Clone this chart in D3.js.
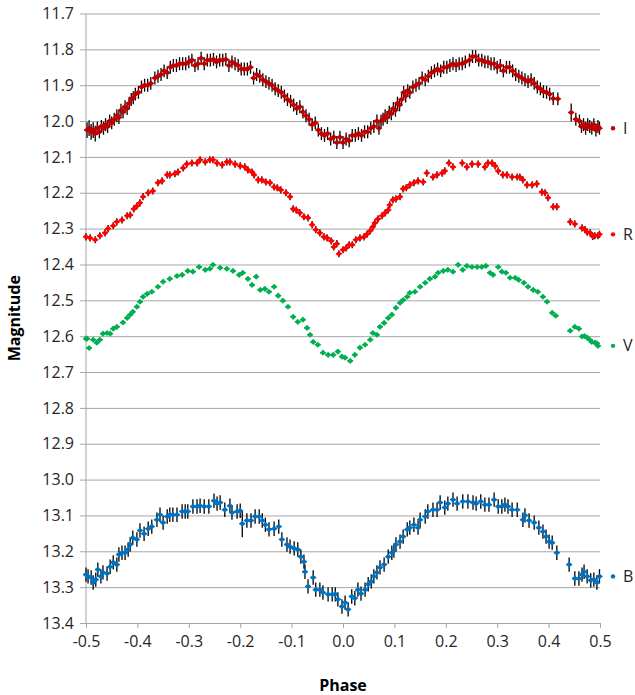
<!DOCTYPE html>
<html>
<head>
<meta charset="utf-8">
<script src="https://cdn.jsdelivr.net/npm/d3@7"></script>
<style>
    body { margin: 0; background: #fff; }
</style>
</head>
<body>
<div id="chart"></div>
<script>
// light curves: [phase, magnitude, (optional error)]
const bands = ['I', 'R', 'V', 'B'];
const bandColors = ['#c00000', '#ff0000', '#00b050', '#0070c0'];
const bandErr = [0.018, 0.01, 0.005, 0.02];

const yTicks = [11.7, 11.8, 11.9, 12.0, 12.1, 12.2, 12.3, 12.4, 12.5, 12.6, 12.7, 12.8, 12.9, 13.0, 13.1, 13.2, 13.3, 13.4];
const xTicks = [-0.5, -0.4, -0.3, -0.2, -0.1, 0.0, 0.1, 0.2, 0.3, 0.4, 0.5];

const dataI = [
    [-0.498, 12.025, 0.022], [-0.494, 12.02, 0.022], [-0.490, 12.03, 0.022], [-0.486, 12.025, 0.022], [-0.482, 12.035, 0.022],
    [-0.478, 12.02], [-0.474, 12.03], [-0.470, 12.015], [-0.466, 12.02], [-0.462, 12.01], [-0.458, 12.015],
    [-0.454, 12.0], [-0.450, 12.005], [-0.445, 11.995], [-0.440, 11.985], [-0.436, 11.99], [-0.432, 11.97],
    [-0.428, 11.975], [-0.424, 11.96], [-0.420, 11.965], [-0.416, 11.95], [-0.412, 11.94], [-0.408, 11.935],
    [-0.404, 11.925], [-0.398, 11.92], [-0.392, 11.905], [-0.386, 11.9], [-0.380, 11.9], [-0.374, 11.895],
    [-0.366, 11.88], [-0.360, 11.875], [-0.354, 11.87], [-0.348, 11.86], [-0.342, 11.865], [-0.336, 11.85],
    [-0.330, 11.845], [-0.324, 11.845], [-0.318, 11.84], [-0.312, 11.84], [-0.306, 11.84], [-0.300, 11.835],
    [-0.294, 11.83], [-0.288, 11.845], [-0.282, 11.84], [-0.276, 11.825], [-0.270, 11.84], [-0.264, 11.83],
    [-0.258, 11.83], [-0.252, 11.828], [-0.246, 11.835], [-0.240, 11.83], [-0.234, 11.83], [-0.228, 11.828],
    [-0.222, 11.845], [-0.216, 11.835], [-0.210, 11.84], [-0.204, 11.845], [-0.198, 11.855], [-0.192, 11.855],
    [-0.186, 11.855], [-0.180, 11.85], [-0.174, 11.88], [-0.168, 11.87], [-0.162, 11.875], [-0.156, 11.885],
    [-0.150, 11.89], [-0.144, 11.895], [-0.138, 11.9], [-0.132, 11.91], [-0.126, 11.915], [-0.120, 11.92],
    [-0.114, 11.93], [-0.108, 11.94], [-0.102, 11.945], [-0.096, 11.955], [-0.090, 11.965], [-0.084, 11.96],
    [-0.078, 11.975], [-0.072, 11.985], [-0.066, 11.995], [-0.060, 12.01], [-0.054, 12.005], [-0.048, 12.025],
    [-0.042, 12.035], [-0.036, 12.04], [-0.030, 12.035], [-0.024, 12.05], [-0.018, 12.045], [-0.012, 12.06],
    [-0.006, 12.045], [0.000, 12.06], [0.006, 12.05], [0.012, 12.055], [0.018, 12.04], [0.024, 12.04],
    [0.030, 12.035], [0.036, 12.04], [0.042, 12.03], [0.048, 12.03], [0.054, 12.02], [0.060, 12.015],
    [0.066, 12.0], [0.070, 12.02], [0.074, 12.0], [0.078, 11.995], [0.082, 11.985], [0.086, 11.99],
    [0.090, 11.975], [0.094, 11.98], [0.098, 11.965], [0.102, 11.97], [0.106, 11.95], [0.110, 11.955],
    [0.114, 11.94], [0.118, 11.92], [0.122, 11.93], [0.126, 11.915], [0.130, 11.92], [0.136, 11.905],
    [0.142, 11.9], [0.148, 11.895], [0.154, 11.88], [0.160, 11.885], [0.166, 11.875], [0.172, 11.865],
    [0.178, 11.86], [0.184, 11.855], [0.190, 11.86], [0.196, 11.85], [0.202, 11.85], [0.208, 11.845],
    [0.214, 11.84], [0.220, 11.845], [0.226, 11.84], [0.232, 11.84], [0.238, 11.835], [0.246, 11.83],
    [0.252, 11.82], [0.258, 11.82], [0.264, 11.83], [0.270, 11.83], [0.276, 11.835], [0.282, 11.835],
    [0.288, 11.84], [0.294, 11.84], [0.300, 11.85], [0.306, 11.845], [0.312, 11.86], [0.318, 11.85],
    [0.324, 11.85], [0.330, 11.86], [0.336, 11.87], [0.342, 11.875], [0.348, 11.88], [0.354, 11.885],
    [0.360, 11.89], [0.366, 11.885], [0.372, 11.895], [0.378, 11.905], [0.384, 11.91], [0.390, 11.918],
    [0.396, 11.92], [0.402, 11.925], [0.409, 11.937], [0.418, 11.938], [0.444, 11.976, 0.025], [0.453, 11.995],
    [0.460, 12.0], [0.464, 12.015], [0.468, 12.01], [0.472, 12.02], [0.476, 12.01], [0.480, 12.015],
    [0.484, 12.02], [0.488, 12.01], [0.492, 12.025], [0.496, 12.015], [0.499, 12.02]
];

const dataR = [
    [-0.500, 12.323], [-0.492, 12.326], [-0.482, 12.331], [-0.473, 12.32], [-0.463, 12.312], [-0.457, 12.30],
    [-0.447, 12.292], [-0.440, 12.281], [-0.430, 12.276], [-0.420, 12.264], [-0.414, 12.262], [-0.407, 12.245],
    [-0.401, 12.237], [-0.395, 12.228], [-0.389, 12.211], [-0.379, 12.20], [-0.370, 12.195], [-0.360, 12.172],
    [-0.352, 12.167], [-0.342, 12.15], [-0.337, 12.15], [-0.327, 12.147], [-0.321, 12.142], [-0.311, 12.131],
    [-0.304, 12.12], [-0.294, 12.117], [-0.284, 12.117], [-0.278, 12.108], [-0.268, 12.114], [-0.259, 12.108],
    [-0.253, 12.108], [-0.245, 12.117], [-0.235, 12.122], [-0.226, 12.114], [-0.220, 12.114], [-0.210, 12.12],
    [-0.200, 12.125], [-0.191, 12.128], [-0.185, 12.136], [-0.177, 12.142], [-0.173, 12.15], [-0.165, 12.164],
    [-0.158, 12.164], [-0.150, 12.17], [-0.142, 12.172], [-0.134, 12.184], [-0.128, 12.186], [-0.121, 12.192],
    [-0.111, 12.20], [-0.103, 12.211], [-0.097, 12.245], [-0.091, 12.248], [-0.084, 12.256], [-0.076, 12.267],
    [-0.068, 12.27], [-0.060, 12.289], [-0.053, 12.303], [-0.045, 12.312], [-0.037, 12.323], [-0.031, 12.326],
    [-0.023, 12.334], [-0.018, 12.351], [-0.012, 12.342], [-0.008, 12.37], [0.000, 12.359], [0.006, 12.354],
    [0.012, 12.345], [0.018, 12.345], [0.025, 12.331], [0.033, 12.326], [0.041, 12.323], [0.047, 12.315],
    [0.053, 12.306], [0.058, 12.295], [0.062, 12.284], [0.068, 12.273], [0.076, 12.264], [0.082, 12.256],
    [0.088, 12.248], [0.091, 12.234], [0.097, 12.22], [0.103, 12.217], [0.111, 12.211], [0.117, 12.189],
    [0.123, 12.186], [0.130, 12.178], [0.138, 12.172], [0.146, 12.167], [0.156, 12.17], [0.163, 12.145],
    [0.175, 12.156], [0.183, 12.15], [0.193, 12.145], [0.198, 12.139], [0.206, 12.117], [0.214, 12.128],
    [0.232, 12.117], [0.241, 12.128], [0.251, 12.12], [0.263, 12.12], [0.276, 12.128], [0.282, 12.117],
    [0.290, 12.117], [0.296, 12.125], [0.302, 12.139], [0.311, 12.15], [0.319, 12.15], [0.329, 12.156],
    [0.339, 12.156], [0.344, 12.156], [0.350, 12.164], [0.358, 12.178], [0.368, 12.178], [0.377, 12.175],
    [0.387, 12.198], [0.393, 12.20], [0.399, 12.214], [0.409, 12.239], [0.416, 12.239], [0.442, 12.281],
    [0.451, 12.287], [0.465, 12.298], [0.471, 12.303], [0.475, 12.31], [0.481, 12.312], [0.486, 12.322],
    [0.490, 12.32], [0.496, 12.32], [0.499, 12.316]
];

const dataV = [
    [-0.500, 12.607], [-0.498, 12.607], [-0.494, 12.633], [-0.486, 12.61], [-0.479, 12.618], [-0.473, 12.61],
    [-0.467, 12.593], [-0.459, 12.591], [-0.453, 12.593], [-0.447, 12.579], [-0.440, 12.574], [-0.428, 12.562],
    [-0.420, 12.549], [-0.414, 12.54], [-0.409, 12.532], [-0.401, 12.518], [-0.395, 12.504], [-0.389, 12.49],
    [-0.381, 12.482], [-0.372, 12.476], [-0.360, 12.462], [-0.350, 12.448], [-0.337, 12.44], [-0.323, 12.432],
    [-0.313, 12.429], [-0.302, 12.418], [-0.292, 12.42], [-0.280, 12.407], [-0.268, 12.415], [-0.259, 12.412],
    [-0.253, 12.401], [-0.239, 12.409], [-0.226, 12.412], [-0.214, 12.418], [-0.202, 12.429], [-0.195, 12.423],
    [-0.185, 12.44], [-0.177, 12.457], [-0.169, 12.434], [-0.161, 12.471], [-0.152, 12.468], [-0.144, 12.476],
    [-0.134, 12.462], [-0.126, 12.487], [-0.117, 12.501], [-0.107, 12.518], [-0.097, 12.546], [-0.088, 12.56],
    [-0.078, 12.554], [-0.070, 12.577], [-0.064, 12.596], [-0.058, 12.616], [-0.049, 12.624], [-0.039, 12.646],
    [-0.029, 12.652], [-0.019, 12.652], [-0.010, 12.643], [-0.002, 12.657], [0.004, 12.66], [0.014, 12.669],
    [0.023, 12.652], [0.033, 12.632], [0.043, 12.624], [0.053, 12.61], [0.058, 12.591], [0.066, 12.596],
    [0.072, 12.574], [0.080, 12.563], [0.088, 12.549], [0.095, 12.54], [0.103, 12.521], [0.111, 12.507],
    [0.117, 12.499], [0.125, 12.49], [0.130, 12.479], [0.140, 12.476], [0.150, 12.462], [0.160, 12.451],
    [0.169, 12.44], [0.179, 12.434], [0.185, 12.423], [0.195, 12.418], [0.204, 12.415], [0.214, 12.42],
    [0.224, 12.401], [0.233, 12.415], [0.241, 12.404], [0.251, 12.407], [0.261, 12.407], [0.270, 12.407],
    [0.278, 12.404], [0.286, 12.423], [0.292, 12.429], [0.302, 12.407], [0.309, 12.42], [0.317, 12.423],
    [0.325, 12.437], [0.335, 12.437], [0.342, 12.443], [0.352, 12.451], [0.360, 12.462], [0.370, 12.471],
    [0.379, 12.476], [0.389, 12.49], [0.397, 12.504], [0.407, 12.535], [0.414, 12.543], [0.442, 12.585],
    [0.451, 12.574], [0.459, 12.579], [0.465, 12.601], [0.470, 12.60], [0.475, 12.604], [0.480, 12.61],
    [0.484, 12.616], [0.490, 12.618], [0.494, 12.62], [0.496, 12.627]
];

const dataB = [
    [-0.500, 13.265], [-0.496, 13.27], [-0.490, 13.273], [-0.486, 13.287], [-0.481, 13.279], [-0.477, 13.251],
    [-0.471, 13.27], [-0.467, 13.259], [-0.459, 13.262], [-0.453, 13.243], [-0.447, 13.231], [-0.440, 13.237],
    [-0.436, 13.209], [-0.430, 13.204], [-0.424, 13.204], [-0.418, 13.195], [-0.414, 13.181], [-0.409, 13.162],
    [-0.401, 13.167], [-0.395, 13.142], [-0.387, 13.151], [-0.379, 13.137], [-0.372, 13.131], [-0.362, 13.112],
    [-0.356, 13.098], [-0.350, 13.12], [-0.342, 13.103], [-0.337, 13.098], [-0.331, 13.098], [-0.323, 13.098],
    [-0.313, 13.089], [-0.307, 13.089], [-0.302, 13.089], [-0.292, 13.075], [-0.284, 13.075], [-0.278, 13.073],
    [-0.270, 13.075], [-0.261, 13.075], [-0.251, 13.059], [-0.245, 13.067], [-0.239, 13.064], [-0.230, 13.084],
    [-0.220, 13.073], [-0.216, 13.092], [-0.206, 13.089], [-0.200, 13.087], [-0.196, 13.123, 0.038], [-0.187, 13.114],
    [-0.179, 13.114], [-0.171, 13.103], [-0.163, 13.103], [-0.157, 13.114], [-0.151, 13.126], [-0.144, 13.139],
    [-0.134, 13.137], [-0.125, 13.131], [-0.119, 13.167], [-0.109, 13.181], [-0.103, 13.187], [-0.095, 13.192],
    [-0.088, 13.195], [-0.082, 13.215], [-0.076, 13.229], [-0.074, 13.257], [-0.068, 13.298], [-0.058, 13.273],
    [-0.053, 13.307], [-0.045, 13.307], [-0.039, 13.315], [-0.029, 13.32], [-0.021, 13.32], [-0.015, 13.32],
    [-0.010, 13.334], [-0.002, 13.354], [0.004, 13.343], [0.010, 13.362], [0.017, 13.326], [0.023, 13.331],
    [0.029, 13.307], [0.035, 13.318], [0.043, 13.307], [0.049, 13.292], [0.055, 13.284], [0.060, 13.27],
    [0.066, 13.259], [0.072, 13.245], [0.080, 13.237], [0.088, 13.215], [0.095, 13.204], [0.099, 13.198],
    [0.103, 13.181], [0.111, 13.173], [0.117, 13.159], [0.125, 13.139], [0.130, 13.134], [0.138, 13.126],
    [0.146, 13.134], [0.150, 13.112], [0.160, 13.103], [0.165, 13.089], [0.175, 13.084], [0.183, 13.084],
    [0.189, 13.064], [0.198, 13.078], [0.204, 13.067], [0.214, 13.056], [0.222, 13.067], [0.233, 13.061],
    [0.243, 13.061], [0.253, 13.064], [0.259, 13.067], [0.268, 13.061], [0.276, 13.07], [0.284, 13.07],
    [0.294, 13.056], [0.302, 13.075], [0.309, 13.075], [0.315, 13.07], [0.321, 13.075], [0.329, 13.084],
    [0.339, 13.084], [0.350, 13.112], [0.354, 13.1], [0.362, 13.114], [0.372, 13.12], [0.381, 13.134],
    [0.389, 13.145], [0.395, 13.159], [0.401, 13.173], [0.407, 13.176], [0.416, 13.204], [0.440, 13.237],
    [0.451, 13.276], [0.459, 13.276], [0.465, 13.265], [0.469, 13.257], [0.475, 13.27], [0.482, 13.281],
    [0.488, 13.279], [0.494, 13.287], [0.499, 13.27]
];

const bandData = [dataI, dataR, dataV, dataB];

const fontFamily = "'Open Sans', 'Noto Sans', sans-serif",
    gridColor = '#a6a6a6',
    textColor = '#262626';

const margin = { top: 13.5, right: 35, bottom: 72, left: 86 },
    width = 635 - margin.left - margin.right,
    height = 695 - margin.top - margin.bottom;

const svg = d3.select('#chart')
    .append('svg')
    .attr('width', 635)
    .attr('height', 695)
    .style('background-color', '#fff')
    .append('g')
    .attr('transform', 'translate(' + margin.left + ',' + margin.top + ')');

const x = d3.scaleLinear().domain([-0.5, 0.5]).range([0, width]);
const y = d3.scaleLinear().domain([11.7, 13.4]).range([0, height]);

// horizontal grid + y labels
const yAxis = svg.append('g')
    .call(d3.axisLeft(y).tickValues(yTicks).tickFormat(d3.format('.1f')).tickSize(-width).tickPadding(12))
    .call(g => g.select('.domain').remove());
yAxis.selectAll('.tick line')
    .attr('x1', -6)
    .attr('x2', width)
    .attr('stroke', gridColor)
    .attr('stroke-width', 1);
yAxis.selectAll('.tick text')
    .style('font-size', '16px')
    .style('font-family', fontFamily)
    .attr('fill', textColor);

// left axis line
svg.append('line')
    .attr('x1', 0).attr('x2', 0)
    .attr('y1', 0).attr('y2', height)
    .attr('stroke', gridColor);

// bottom axis
const xAxis = svg.append('g')
    .attr('transform', 'translate(0,' + height + ')')
    .call(d3.axisBottom(x).tickValues(xTicks).tickFormat(d3.format('.1f')).tickSize(5).tickPadding(8));
xAxis.select('.domain').attr('stroke', gridColor);
xAxis.selectAll('.tick line').attr('stroke', gridColor);
xAxis.selectAll('.tick text')
    .style('font-size', '16px')
    .style('font-family', fontFamily)
    .attr('fill', textColor)
    .text(d => d3.format('.1f')(d).replace('−', '-'));

// axis titles
svg.append('text')
    .attr('x', width / 2)
    .attr('y', height + 68)
    .attr('text-anchor', 'middle')
    .style('font-size', '16px')
    .style('font-weight', 'bold')
    .style('font-family', fontFamily)
    .attr('fill', '#000')
    .text('Phase');

svg.append('text')
    .attr('transform', 'translate(' + (-66) + ',' + (height / 2) + ') rotate(-90)')
    .attr('text-anchor', 'middle')
    .style('font-size', '16px')
    .style('font-weight', 'bold')
    .style('font-family', fontFamily)
    .attr('fill', '#000')
    .text('Magnitude');

const diamond = d3.symbol().type(d3.symbolDiamond2).size(24);

bands.forEach((band, i) => {
    const data = bandData[i];
    const color = bandColors[i];
    const g = svg.append('g').attr('class', 'band-' + band);

    // vertical error bars
    g.selectAll('line.err')
        .data(data)
        .enter()
        .append('line')
        .attr('class', 'err')
        .attr('x1', d => x(d[0]))
        .attr('x2', d => x(d[0]))
        .attr('y1', d => y(d[1] - (d[2] || bandErr[i])))
        .attr('y2', d => y(d[1] + (d[2] || bandErr[i])))
        .attr('stroke', '#000')
        .attr('stroke-width', 1.3);

    // short horizontal bar through each point
    g.selectAll('line.hbar')
        .data(data)
        .enter()
        .append('line')
        .attr('class', 'hbar')
        .attr('x1', d => x(d[0]) - 3)
        .attr('x2', d => x(d[0]) + 3)
        .attr('y1', d => y(d[1]))
        .attr('y2', d => y(d[1]))
        .attr('stroke', color)
        .attr('stroke-width', 1.4);

    g.selectAll('path.pt')
        .data(data)
        .enter()
        .append('path')
        .attr('class', 'pt')
        .attr('d', diamond)
        .attr('transform', d => 'translate(' + x(d[0]) + ',' + y(d[1]) + ')')
        .attr('fill', color);

    // series label at the last point
    const last = data[data.length - 1];
    g.append('circle')
        .attr('cx', width + 13)
        .attr('cy', y(last[1]))
        .attr('r', 2.2)
        .attr('fill', color);
    g.append('text')
        .attr('x', width + 23)
        .attr('y', y(last[1]))
        .attr('dy', '0.35em')
        .style('font-size', '16px')
        .style('font-family', fontFamily)
        .attr('fill', textColor)
        .text(band);
});
</script>
</body>
</html>
